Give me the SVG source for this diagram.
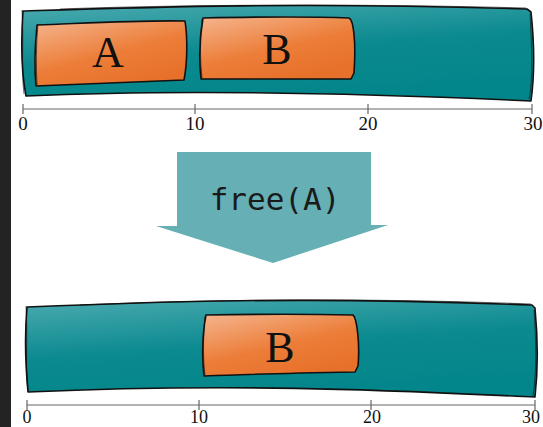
<svg xmlns="http://www.w3.org/2000/svg" width="543" height="427" viewBox="0 0 543 427">
<defs>
<linearGradient id="teal" x1="0" y1="0" x2="0.35" y2="1">
<stop offset="0" stop-color="#4aaab0"/>
<stop offset="0.55" stop-color="#0b8a8f"/>
<stop offset="1" stop-color="#03868b"/>
</linearGradient>
<linearGradient id="orange" x1="0" y1="0" x2="0.6" y2="1">
<stop offset="0" stop-color="#f5b58f"/>
<stop offset="0.6" stop-color="#ec7d38"/>
<stop offset="1" stop-color="#e7712b"/>
</linearGradient>
</defs>
<style>
.bar{fill:url(#teal);stroke:#111;stroke-width:1.6;stroke-linejoin:round}
.box{fill:url(#orange);stroke:#111;stroke-width:1.6;stroke-linejoin:round}
.sk{fill:none;stroke:#111;stroke-width:0.8;opacity:0.8}
.axis{stroke:#666;stroke-width:1.2;fill:none}
.num{font-family:"Liberation Serif",serif;font-size:19px;fill:#111;text-anchor:middle}
.numb{font-family:"Liberation Serif",serif;font-size:18px;fill:#111;text-anchor:middle}
.lbl{font-family:"Liberation Serif",serif;font-size:44px;fill:#111;text-anchor:middle}
.code{font-family:"DejaVu Sans Mono","Liberation Mono",monospace;font-size:31px;fill:#1a1a1a;text-anchor:middle}
</style>
<rect x="0" y="0" width="543" height="427" fill="#fff"/>
<rect x="0" y="0" width="11" height="427" fill="#232323"/>

<g id="memory-before">
<path class="bar" d="M23,11 C150,7 300,2 527,9 L531,12 C534,40 535,72 531,101 C400,95 200,88 26,96 C21,70 21,40 23,11 Z"/>
<path class="sk" d="M22,10 C24,40 21,70 24,94 M60,9 C200,4 380,4 526,8 M530,14 C532,50 533,80 529,99"/>
<g id="block-A">
<path class="box" d="M37,25 C90,23 140,20 185,21 C188,40 187,65 184,80 C130,82 80,84 36,86 C34,65 35,45 37,25 Z"/>
<path class="sk" d="M38,24 C36,45 36,65 37,85"/>
<text class="lbl" x="108" y="67">A</text>
</g>
<g id="block-B">
<path class="box" d="M203,18 C250,17 300,16 349,18 C354,20 356,45 354,73 L351,79 C300,79 250,79 201,79 C199,60 199,40 203,18 Z"/>
<path class="sk" d="M202,19 C200,40 200,60 202,78"/>
<text class="lbl" x="277" y="64">B</text>
</g>
<g id="axis-top">
<path class="axis" d="M23,109 H532 M23,104 V114 M195,104 V114 M368,104 V114 M532,104 V114"/>
<text class="num" x="23" y="130">0</text>
<text class="num" x="195" y="130">10</text>
<text class="num" x="368" y="130">20</text>
<text class="num" x="533" y="130">30</text>
</g>
</g>

<g id="arrow-free">
<path d="M177,152 H371 V225 H388 L273,263 L156,226 H177 Z" fill="#65afb5"/>
<text class="code" x="275" y="210">free(A)</text>
</g>

<g id="memory-after">
<path class="bar" d="M27,307 C150,302 300,296 532,305 L535,308 C538,340 538,370 535,397 C420,392 250,382 28,392 C25,360 25,330 27,307 Z"/>
<path class="sk" d="M26,306 C28,340 25,370 28,391 M80,305 C250,298 400,299 531,304 M534,310 C536,340 537,370 533,396"/>
<g id="block-B-after">
<path class="box" d="M206,315 C260,314 310,314 353,315 C357,318 360,345 358,366 L355,372 C300,373 250,374 204,376 C202,360 202,335 206,315 Z"/>
<path class="sk" d="M205,316 C203,340 203,360 205,375"/>
<text class="lbl" x="280" y="362">B</text>
</g>
<g id="axis-bottom">
<path class="axis" d="M27,405 H535 M27,400 V410 M199,400 V410 M371,400 V410 M535,400 V410"/>
<text class="numb" x="27" y="423">0</text>
<text class="numb" x="199" y="423">10</text>
<text class="numb" x="372" y="423">20</text>
<text class="numb" x="531" y="423">30</text>
</g>
</g>
</svg>
